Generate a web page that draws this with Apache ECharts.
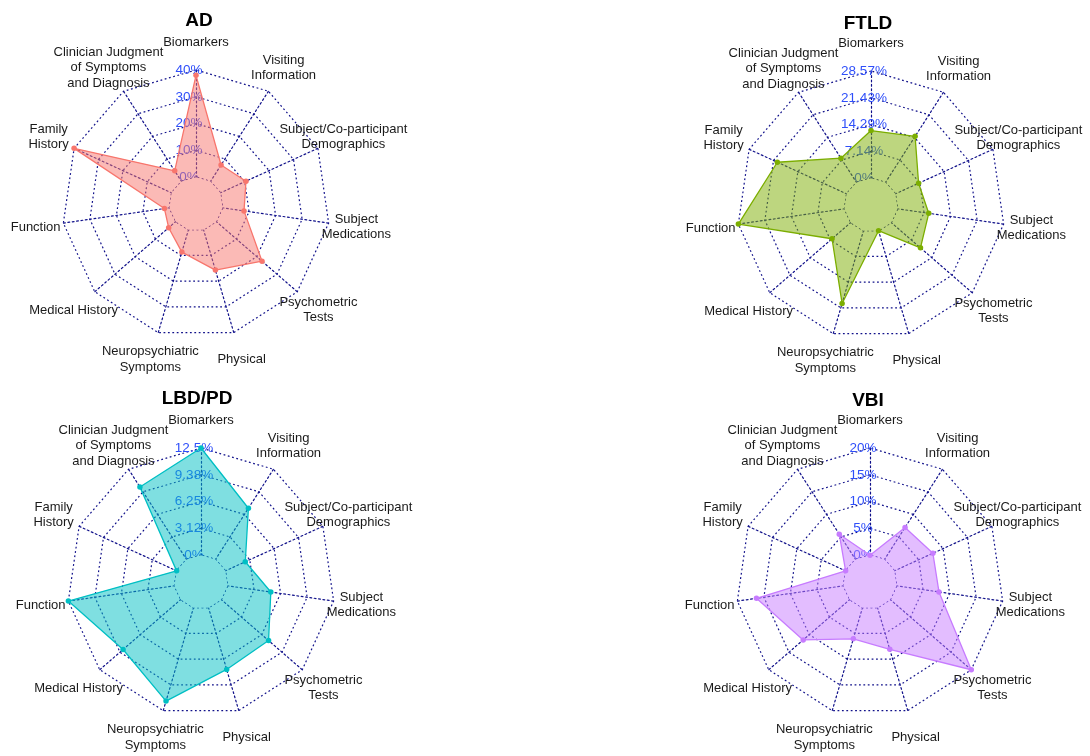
<!DOCTYPE html>
<html><head><meta charset="utf-8">
<script src="https://cdn.jsdelivr.net/npm/echarts@6/dist/echarts.min.js"></script>
<style>html,body{margin:0;padding:0;background:#fff}#c{width:1090px;height:756px}</style>
</head><body><div id="c"></div><script>
// Axes listed clockwise starting from the top
const categories = ['Biomarkers', 'Visiting\nInformation', 'Subject/Co-participant\nDemographics',
  'Subject\nMedications', 'Psychometric\nTests', 'Physical', 'Neuropsychiatric\nSymptoms',
  'Medical History', 'Function', 'Family\nHistory', 'Clinician Judgment\nof Symptoms\nand Diagnosis'];
const panelTitles = ['AD', 'FTLD', 'LBD/PD', 'VBI'];
const adValues   = [38, 7.3, 10.5, 8.1, 22.6, 15.7, 8.7, 3.5, 1.9, 40, 4.7];
const ftldValues = [12.7, 14.6, 6.8, 8.4, 10.3, 0, 20.2, 6.6, 28.57, 20.3, 7.7];
const lbdValues  = [12.5, 7.1, 2.55, 5.1, 7.3, 7.5, 11.35, 8.9, 12.5, 0, 10.05];
const vbiValues  = [0, 7.1, 7.9, 8.0, 20, 8.1, 6.05, 11.5, 16.4, 0, 5.6];
const adTicks   = ['0%', '10%', '20%', '30%', '40%'];
const ftldTicks = ['0%', '7.14%', '14.29%', '21.43%', '28.57%'];
const lbdTicks  = ['0%', '3.12%', '6.25%', '9.38%', '12.5%'];
const vbiTicks  = ['0%', '5%', '10%', '15%', '20%'];
const axisMax = [40, 200 / 7, 12.5, 20];
// 0% baseline ring (used to mask the centre hole of each radar)
const baseline = categories.map(() => 0);

const seriesValues = [adValues, ftldValues, lbdValues, vbiValues];
const tickSets = [adTicks, ftldTicks, lbdTicks, vbiTicks];
const colors = ['#F8766D', '#7CAE00', '#00BFC4', '#C77CFF'];
const centers = [[196, 204], [871, 205], [201, 582], [870, 582]];
const titlePos = [[199, 11], [868, 14], [197, 389], [868, 391]];
const R = 134;

// ECharts places indicators counter-clockwise; reorder to get clockwise layout
const order = [0];
for (let k = categories.length - 1; k >= 1; k--) order.push(k);

const gridLine = { color: '#10108a', width: 1.2, type: [1.8, 2.6] };

const radars = [], series = [], titles = [];
for (let p = 0; p < 4; p++) {
  const max = axisMax[p], step = max / 4, ticks = tickSets[p];
  radars.push({
    center: centers[p], radius: R, startAngle: 90, shape: 'polygon', splitNumber: 5, z: 0,
    indicator: order.map((k, j) => {
      const ind = { name: categories[k], min: -step, max: max };
      if (j === 0) {
        ind.axisLabel = {
          show: true, color: '#2f4ffa', fontSize: 13.5, fontFamily: 'Liberation Sans, Arial, sans-serif',
          margin: 7, align: 'center', verticalAlign: 'middle', showMinLabel: true, showMaxLabel: true,
          formatter: (v) => { const i = Math.round(v / step); return i < 0 ? '' : ticks[i]; }
        };
      }
      return ind;
    }),
    axisName: { color: '#1a1a1a', fontSize: 13, fontFamily: 'Liberation Sans, Arial, sans-serif',
      align: 'center', verticalAlign: 'middle', lineHeight: 15.5 },
    axisNameGap: 28,
    axisLine: { show: true, lineStyle: gridLine },
    axisTick: { show: false },
    axisLabel: { show: false },
    splitLine: { show: true, lineStyle: gridLine },
    splitArea: { show: false }
  });
  // white mask over the centre hole, redrawing the 0% ring
  series.push({
    type: 'radar', radarIndex: p, symbol: 'none', silent: true, z: 1,
    lineStyle: gridLine, areaStyle: { color: '#ffffff', opacity: 1 },
    data: [{ name: 'base', value: baseline }]
  });
  series.push({
    type: 'radar', radarIndex: p, symbol: 'circle', symbolSize: 5.5, z: 2,
    lineStyle: { color: colors[p], width: 1.3 },
    itemStyle: { color: colors[p] },
    areaStyle: { color: colors[p], opacity: 0.5 },
    data: [{ name: panelTitles[p], value: order.map(k => seriesValues[p][k]) }]
  });
  titles.push({
    text: panelTitles[p], left: titlePos[p][0], top: titlePos[p][1], textAlign: 'center', padding: 0,
    textStyle: { fontSize: 19, fontWeight: 'bold', color: '#000', fontFamily: 'Liberation Sans, Arial, sans-serif' }
  });
}

const chart = echarts.init(document.getElementById('c'), null, { renderer: 'canvas' });
chart.setOption({ backgroundColor: '#ffffff', animation: false, title: titles, radar: radars, series: series });
</script></body></html>
